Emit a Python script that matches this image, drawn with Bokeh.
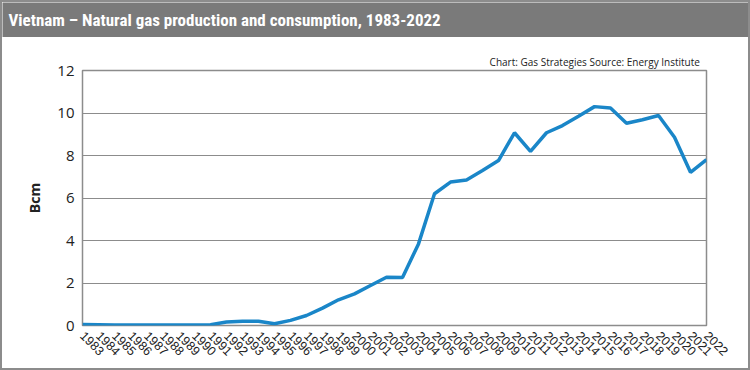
import numpy as np
from bokeh.plotting import figure
from bokeh.layouts import column
from bokeh.models import FixedTicker, Label, ColumnDataSource
from bokeh.embed import file_html
from bokeh.resources import INLINE

years = list(range(1983, 2023))
bcm = [0.05, 0.04, 0.02, 0.02, 0.02, 0.02, 0.02, 0.02, 0.04, 0.16,
       0.20, 0.20, 0.08, 0.24, 0.47, 0.82, 1.21, 1.49, 1.88, 2.27,
       2.26, 3.84, 6.20, 6.75, 6.85, 7.29, 7.76, 9.07, 8.19, 9.07,
       9.41, 9.85, 10.30, 10.24, 9.52, 9.68, 9.88, 8.86, 7.21, 7.80]
y_ticks = [0, 2, 4, 6, 8, 10, 12]

title_text = "Vietnam \u2013 Natural gas production and consumption, 1983-2022"
source_text = "Chart: Gas Strategies  Source: Energy Institute"

BORDER = 2
W = 750 - 2 * BORDER
TH = 35
H = 370 - 2 * BORDER - TH
L, R, T, B = 80, 42, 33, 43
FW, FH = W - L - R, H - T - B

# title bar
tb = figure(width=W, height=TH, output_backend="svg", toolbar_location=None,
            x_range=(0, 1), y_range=(0, 1), min_border=0,
            background_fill_color="#7a7a7a", border_fill_color="#7a7a7a")
tb.frame_align = False
tb.axis.visible = False
tb.grid.visible = False
tb.outline_line_color = None
tb.add_layout(Label(x=0, y=0.5, x_offset=6, text=title_text, text_color="white",
                    text_font="'Liberation Sans Narrow', 'Roboto Condensed', Roboto",
                    text_font_style="bold", text_font_size="17px",
                    text_baseline="middle"))

# main chart
p = figure(width=W, height=H, output_backend="svg", toolbar_location=None,
           x_range=(1983, 2022), y_range=(0, 12),
           min_border_left=L, min_border_right=R,
           min_border_top=T, min_border_bottom=B)
p.frame_align = False
p.frame_width = FW
p.frame_height = FH

src = ColumnDataSource(dict(x=years, y=bcm))
p.line("x", "y", source=src, line_color="#1a86c8", line_width=3.5)

p.title.text = source_text
p.title.align = "right"
p.title.text_font = "Open Sans"
p.title.text_font_style = "normal"
p.title.text_font_size = "10px"
p.title.text_color = "#222222"
p.title.standoff = 3
p.title.offset = 4

p.outline_line_color = "#8c8c8c"
p.outline_line_width = 1.5
p.xgrid.visible = False
p.ygrid.grid_line_color = "#8c8c8c"
p.ygrid.grid_line_width = 1.2
p.yaxis.ticker = FixedTicker(ticks=y_ticks)
p.xaxis.ticker = FixedTicker(ticks=years)

for ax in (p.xaxis[0], p.yaxis[0]):
    ax.axis_line_color = None
    ax.major_tick_line_color = None
    ax.minor_tick_line_color = None

p.yaxis.major_label_text_font = "Open Sans"
p.yaxis.major_label_text_font_size = "15px"
p.yaxis.major_label_text_color = "#222222"
p.yaxis.major_label_standoff = 2
p.yaxis.axis_label = "Bcm"
p.yaxis.axis_label_text_font = "Open Sans"
p.yaxis.axis_label_text_font_style = "bold"
p.yaxis.axis_label_text_font_size = "14px"
p.yaxis.axis_label_text_color = "#222222"
p.yaxis.axis_label_standoff = 10

p.xaxis.major_label_orientation = -np.pi / 4
p.xaxis.major_label_text_font = "Liberation Sans"
p.xaxis.major_label_text_font_size = "12.5px"
p.xaxis.major_label_text_color = "#222222"
p.xaxis.major_label_standoff = 2

layout = column(tb, p, spacing=0,
                styles={"border": f"{BORDER}px solid #8c8c8c"})

open("out.html", "w").write(file_html(layout, INLINE))
